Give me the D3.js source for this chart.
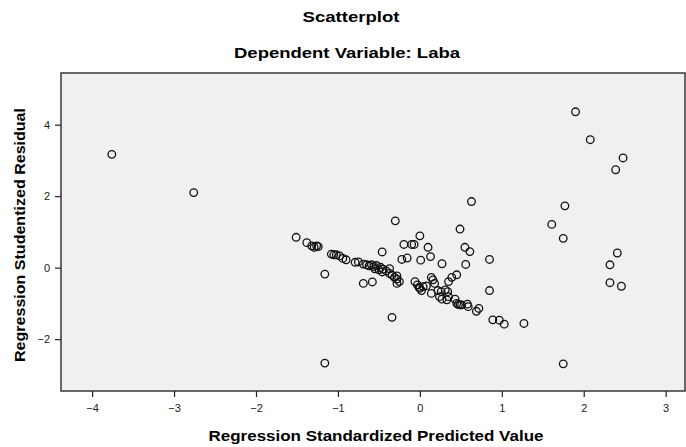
<!DOCTYPE html>
<html><head><meta charset="utf-8">
<script src="https://cdn.jsdelivr.net/npm/d3@7"></script>
<style>body{margin:0;background:#fff}svg{display:block}text{font-family:"Liberation Sans",Arial,sans-serif}</style>
</head><body>
<svg id="c" width="686" height="447"></svg>
<script>
const predicted = [
 -3.76,-2.76,1.90,2.08,2.48,2.39,1.77,1.61,1.75,2.41,2.32,2.32,2.46,1.27,1.75,-1.16,
 0.63,0.49,0.00,-0.30,-0.195,-0.10,-0.07,0.10,0.55,0.61,-0.22,-0.155,0.01,0.13,0.27,0.56,0.85,0.85,
 0.89,0.97,1.03,0.72,0.69,0.58,0.59,0.47,0.49,0.51,0.43,0.45,0.33,0.35,0.24,0.27,
 0.22,0.26,0.31,0.34,0.14,0.39,0.45,0.35,0.14,0.16,0.18,
 -0.06,-0.03,0.00,0.02,0.04,0.08,-0.01,-0.34,-0.69,-0.58,
 -0.69,-0.65,-0.62,-0.59,-0.56,-0.53,-0.55,-0.50,-0.48,-0.45,-0.46,-0.41,-0.37,-0.37,-0.34,-0.31,-0.28,-0.28,-0.25,-0.28,
 -0.46,-0.79,-0.75,-1.08,-1.05,-1.02,-0.98,-0.94,-0.90,-1.16,-1.32,-1.29,-1.26,-1.24,-1.38,-1.51
];
const residual = [
 3.17,2.10,4.36,3.58,3.07,2.74,1.73,1.21,0.82,0.41,0.08,-0.42,-0.52,-1.56,-2.69,-2.67,
 1.85,1.08,0.89,1.31,0.65,0.65,0.65,0.57,0.57,0.45,0.23,0.27,0.21,0.31,0.11,0.09,0.23,-0.64,
 -1.46,-1.47,-1.58,-1.14,-1.22,-1.02,-1.09,-1.03,-1.04,-1.04,-0.88,-1.00,-0.90,-0.81,-0.81,-0.88,
 -0.64,-0.67,-0.62,-0.67,-0.72,-0.27,-0.20,-0.39,-0.27,-0.34,-0.44,
 -0.39,-0.48,-0.58,-0.64,-0.53,-0.51,-0.55,-1.39,-0.44,-0.40,
 0.10,0.08,0.05,0.08,0.03,0.06,-0.03,-0.06,0.01,-0.04,-0.12,-0.09,-0.03,-0.16,-0.21,-0.27,-0.23,-0.32,-0.39,-0.44,
 0.44,0.15,0.16,0.38,0.36,0.36,0.33,0.26,0.22,-0.18,0.61,0.57,0.61,0.59,0.70,0.85
];
const xTicks = [-4,-3,-2,-1,0,1,2,3];
const yTicks = [-2,0,2,4];
const title = "Scatterplot";
const subtitle = "Dependent Variable: Laba";
const xTitle = "Regression Standardized Predicted Value";
const yTitle = "Regression Studentized Residual";

const svg = d3.select("#c");
const L = 61, R = 685, T = 73, B = 391;
const x = d3.scaleLinear().domain([-4.38, 3.236]).range([L, R]);
const y = d3.scaleLinear().domain([-3.45, 5.446]).range([B, T]);

svg.append("rect").attr("x", L).attr("y", T).attr("width", R - L).attr("height", B - T)
  .attr("fill", "#f0f0f0");

svg.append("g").selectAll("circle").data(predicted.map((p, i) => [p, residual[i]]))
  .join("circle").attr("cx", d => x(d[0])).attr("cy", d => y(d[1])).attr("r", 3.8)
  .attr("fill", "none").attr("stroke", "#111").attr("stroke-width", 1.3);

svg.append("rect").attr("x", L).attr("y", T).attr("width", R - L).attr("height", B - T)
  .attr("fill", "none").attr("stroke", "#444").attr("stroke-width", 1.6);

const xa = svg.append("g").attr("transform", `translate(0,${B})`)
  .call(d3.axisBottom(x).tickValues(xTicks).tickSize(6).tickPadding(7).tickFormat(d3.format("d")));
xa.select(".domain").remove();
xa.selectAll("line").attr("stroke", "#222").attr("stroke-width", 1.2);
xa.selectAll("text").attr("font-size", 11).attr("fill", "#222").attr("font-family", '"Liberation Sans",Arial,sans-serif');

const ya = svg.append("g").attr("transform", `translate(${L},0)`)
  .call(d3.axisLeft(y).tickValues(yTicks).tickSize(6).tickPadding(5).tickFormat(d3.format("d")));
ya.select(".domain").remove();
ya.selectAll("line").attr("stroke", "#222").attr("stroke-width", 1.2);
ya.selectAll("text").attr("font-size", 11).attr("fill", "#222").attr("font-family", '"Liberation Sans",Arial,sans-serif');

svg.append("text").attr("x", 351).attr("y", 22).attr("text-anchor", "middle")
  .attr("font-size", 15.5).attr("font-weight", "bold").attr("textLength", 97).attr("lengthAdjust", "spacingAndGlyphs").text(title);
svg.append("text").attr("x", 347).attr("y", 57.5).attr("text-anchor", "middle")
  .attr("font-size", 15.5).attr("font-weight", "bold").attr("textLength", 226).attr("lengthAdjust", "spacingAndGlyphs").text(subtitle);
svg.append("text").attr("x", 376).attr("y", 441).attr("text-anchor", "middle")
  .attr("font-size", 15).attr("font-weight", "bold").attr("textLength", 335).attr("lengthAdjust", "spacingAndGlyphs").text(xTitle);
svg.append("text").attr("transform", "translate(25,235) rotate(-90)").attr("text-anchor", "middle")
  .attr("font-size", 14.5).attr("font-weight", "bold").attr("textLength", 254).attr("lengthAdjust", "spacingAndGlyphs").text(yTitle);
</script>
</body></html>
